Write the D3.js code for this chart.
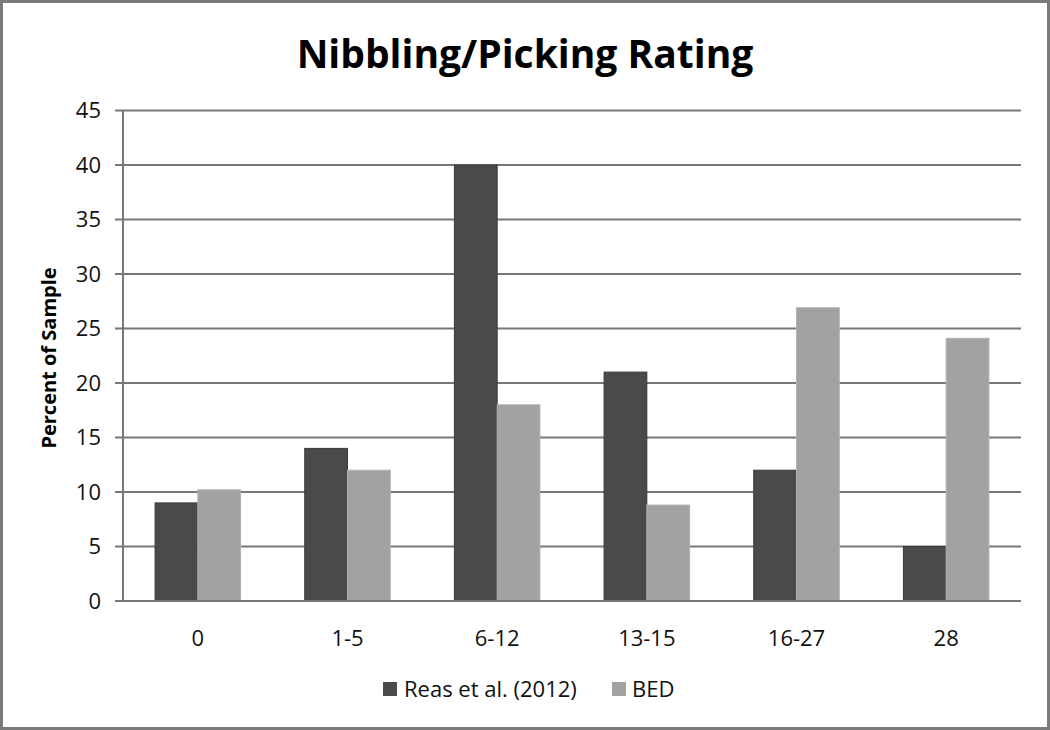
<!DOCTYPE html>
<html><head><meta charset="utf-8">
<script src="https://cdn.jsdelivr.net/npm/d3@7"></script>
<style>body{margin:0;background:#fff}svg{display:block}</style>
</head><body>
<svg id="c" width="1050" height="730"></svg>
<script>
const categories = ["0","1-5","6-12","13-15","16-27","28"];
const reas = [9,14,40,21,12,5];
const bed = [10.2,12,18,8.8,26.9,24.1];
const seriesNames = ["Reas et al. (2012)","BED"];
const yTicks = [0,5,10,15,20,25,30,35,40,45];

const W=1050,H=730;
const m={left:123,right:1021,top:110.5,bottom:601};
const svg=d3.select("#c");
svg.append("rect").attr("x",1.5).attr("y",1.5).attr("width",W-3).attr("height",H-3)
  .attr("fill","#fff").attr("stroke","#7a7a7a").attr("stroke-width",3);

const font="'Open Sans', 'Liberation Sans', sans-serif";
const x0=d3.scaleBand().domain(categories).range([m.left,m.right]);
const y=d3.scaleLinear().domain([0,45]).range([m.bottom,m.top]);

// gridlines
svg.append("g").selectAll("line").data(yTicks).join("line")
  .attr("x1",m.left-8).attr("x2",m.right).attr("y1",d=>y(d)).attr("y2",d=>y(d))
  .attr("stroke","#777").attr("stroke-width",2);
// y axis line
svg.append("line").attr("x1",m.left).attr("x2",m.left).attr("y1",m.top).attr("y2",m.bottom)
  .attr("stroke","#777").attr("stroke-width",2);

// Excel gap width ~150%: group = 2 bars, gap = 1.5 bars
const barW=x0.bandwidth()/3.5;
const data=categories.map((c,i)=>({c,v:[reas[i],bed[i]]}));
const colors=["#4a4a4a","#a2a2a2"];
const g=svg.append("g");
data.forEach(d=>{
  const cx=x0(d.c)+x0.bandwidth()/2;
  d.v.forEach((v,j)=>{
    g.append("rect").attr("x",cx-barW+j*barW).attr("width",barW)
      .attr("y",y(v)).attr("height",y(0)-y(v)).attr("fill",colors[j])
      .attr("stroke",j===0?"#3a3a3a":"#b0b0b0").attr("stroke-width",1);
  });
});
// baseline on top
svg.append("line").attr("x1",m.left-8).attr("x2",m.right).attr("y1",y(0)).attr("y2",y(0))
  .attr("stroke","#777").attr("stroke-width",2);

// y labels
svg.append("g").selectAll("text").data(yTicks).join("text")
  .attr("x",101).attr("y",d=>y(d)).attr("dy","0.36em").attr("text-anchor","end")
  .attr("font-family",font).attr("font-size",22).attr("fill","#111").text(d=>d);
// x labels
svg.append("g").selectAll("text").data(categories).join("text")
  .attr("x",d=>x0(d)+x0.bandwidth()/2).attr("y",646).attr("text-anchor","middle")
  .attr("font-family",font).attr("font-size",22).attr("fill","#111").text(d=>d);

// title
svg.append("text").attr("x",525).attr("y",68).attr("text-anchor","middle")
  .attr("font-family",font).attr("font-weight","bold").attr("font-size",39).attr("fill","#000")
  .text("Nibbling/Picking Rating");
// y title
svg.append("text").attr("transform","translate(56,358) rotate(-90)").attr("text-anchor","middle")
  .attr("font-family",font).attr("font-weight","bold").attr("font-size",20).attr("fill","#000")
  .text("Percent of Sample");

// legend
const leg=[{x:383,tx:404},{x:612,tx:632}];
seriesNames.forEach((n,i)=>{
  svg.append("rect").attr("x",leg[i].x).attr("y",682).attr("width",14).attr("height",14).attr("fill",colors[i]);
  svg.append("text").attr("x",leg[i].tx).attr("y",697).attr("font-family",font).attr("font-size",22)
    .attr("fill","#111").text(n);
});
</script>
</body></html>
